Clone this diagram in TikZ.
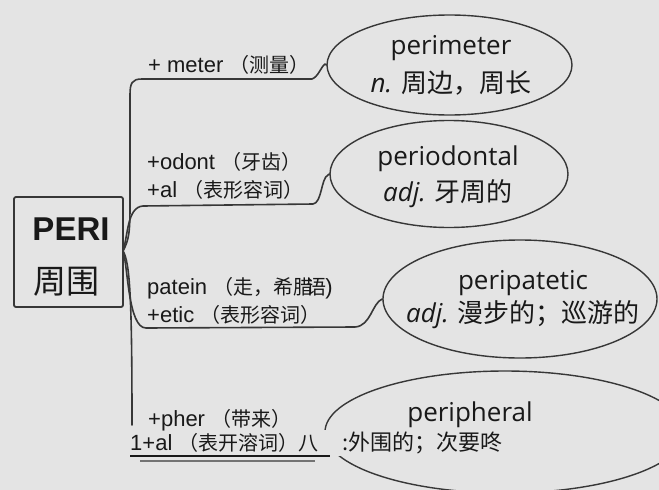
\documentclass[tikz,border=0pt]{standalone}
\usepackage{fontspec}
\setmainfont{Liberation Sans}
\newfontfamily\cjk{Noto Sans CJK SC}
\newfontfamily\osans{Open Sans}
\usetikzlibrary{shapes.geometric}
\definecolor{bg}{RGB}{228,228,228}
\definecolor{ink}{RGB}{25,25,25}
\definecolor{lin}{RGB}{55,55,55}
\newcommand\zhs[1]{{\cjk\fontsize{20}{24}\selectfont #1}}
\newcommand\zhb[1]{{\cjk #1}}
\begin{document}
\begin{tikzpicture}[x=1pt,y=-1pt,
  branch/.style={draw=lin, line width=1.6pt, line cap=round, line join=round},
  lab/.style={anchor=west, inner sep=0pt, text=ink, font=\fontsize{22}{26}\selectfont},
  ell/.style={draw=lin, line width=1.4pt, ellipse, inner sep=0pt},
  word/.style={inner sep=0pt, text=ink, font=\osans\fontsize{26}{32}\selectfont},
]
\useasboundingbox[fill=bg] (0,0) rectangle (659,490);

% root box
\node[draw=lin, line width=1.8pt, rounded corners=2pt, minimum width=109pt, minimum height=110pt, inner sep=0pt] (root) at (68.5,252) {};
\node[font=\bfseries\fontsize{33}{33}\selectfont, text=ink, inner sep=0pt] (peri) at (71,229) {PERI};
\node[font=\cjk\fontsize{33}{33}\selectfont, text=ink, inner sep=0pt] (zw) at (67,282) {周围};
\coordinate (fork) at (123,251);

% ellipses
\node[ell, minimum width=245pt, minimum height=100pt] (e1) at (449.5,65) {};
\node[ell, minimum width=238pt, minimum height=107pt] (e2) at (449,174) {};
\node[ell, minimum width=274pt, minimum height=118pt] (e3) at (520,299) {};
\node[ell, minimum width=360pt, minimum height=122pt] (e4) at (505,432) {};

% ellipse texts
\node[word] (w1a) at (451,48) {perimeter};
\node[word] (w1b) at (451,83) {{\itshape n.} \zhb{周边，周长}};
\node[word] (w2a) at (448,159) {periodontal};
\node[word] (w2b) at (448,194) {{\itshape adj.} \zhb{牙周的}};
\node[word] (w3a) at (523,283) {peripatetic};
\node[word] (w3b) at (523,315) {{\itshape adj.} \zhb{漫步的；巡游的}};
\node[word] (w4a) at (470,415) {peripheral};

% branches
\draw[branch] (fork) .. controls (129,240) and (130,232) .. (130,205) -- (130,95)
  .. controls (130,83) and (132,79) .. (142,79) -- (312,79)
  .. controls (318,77) and (321,67) .. (325,64) -- (e1.west);
\draw[branch] (fork) .. controls (128,236) and (127,207) .. (143,206) -- (313,204)
  .. controls (322,203) and (321,178) .. (328,175) -- (e2.west);
\draw[branch] (fork) .. controls (128,266) and (128,328) .. (146,328) -- (355,327)
  .. controls (371,326) and (372,303) .. (e3.west);
\draw[branch] (fork) .. controls (130,262) and (132,300) .. (132,425);

% branch labels
\node[lab] (t1) at (148,65) {+ meter \zhs{（测量）}};
\node[lab] (t2) at (147,162) {+odont \zhs{（牙齿）}};
\node[lab] (t3) at (147,190) {+al \zhs{（表形容词）}};
\node[lab] (t4) at (147,288) {patein \zhs{（走，希腊\kern-7pt 语}\kern-1pt)};
\node[lab] (t5) at (147,315) {+etic \zhs{（表形容词）}};
\node[lab] (t6) at (148,420) {+pher \zhs{（带来）}};
\node[lab] (t7) at (130,443) {1+al \zhs{（表开溶词）八}};
\node[lab, fill=bg, inner xsep=0pt, inner ysep=2pt] (t8) at (324,443) {\hspace{18pt}{\cjk :外围的；次要咚}};

% underlines
\draw[draw=ink, line width=1.2pt] (t7.south west |- 0,456) -- (330,456);
\draw[draw=lin!70, line width=1.4pt] (140,461) -- (315,461);
\end{tikzpicture}
\end{document}
